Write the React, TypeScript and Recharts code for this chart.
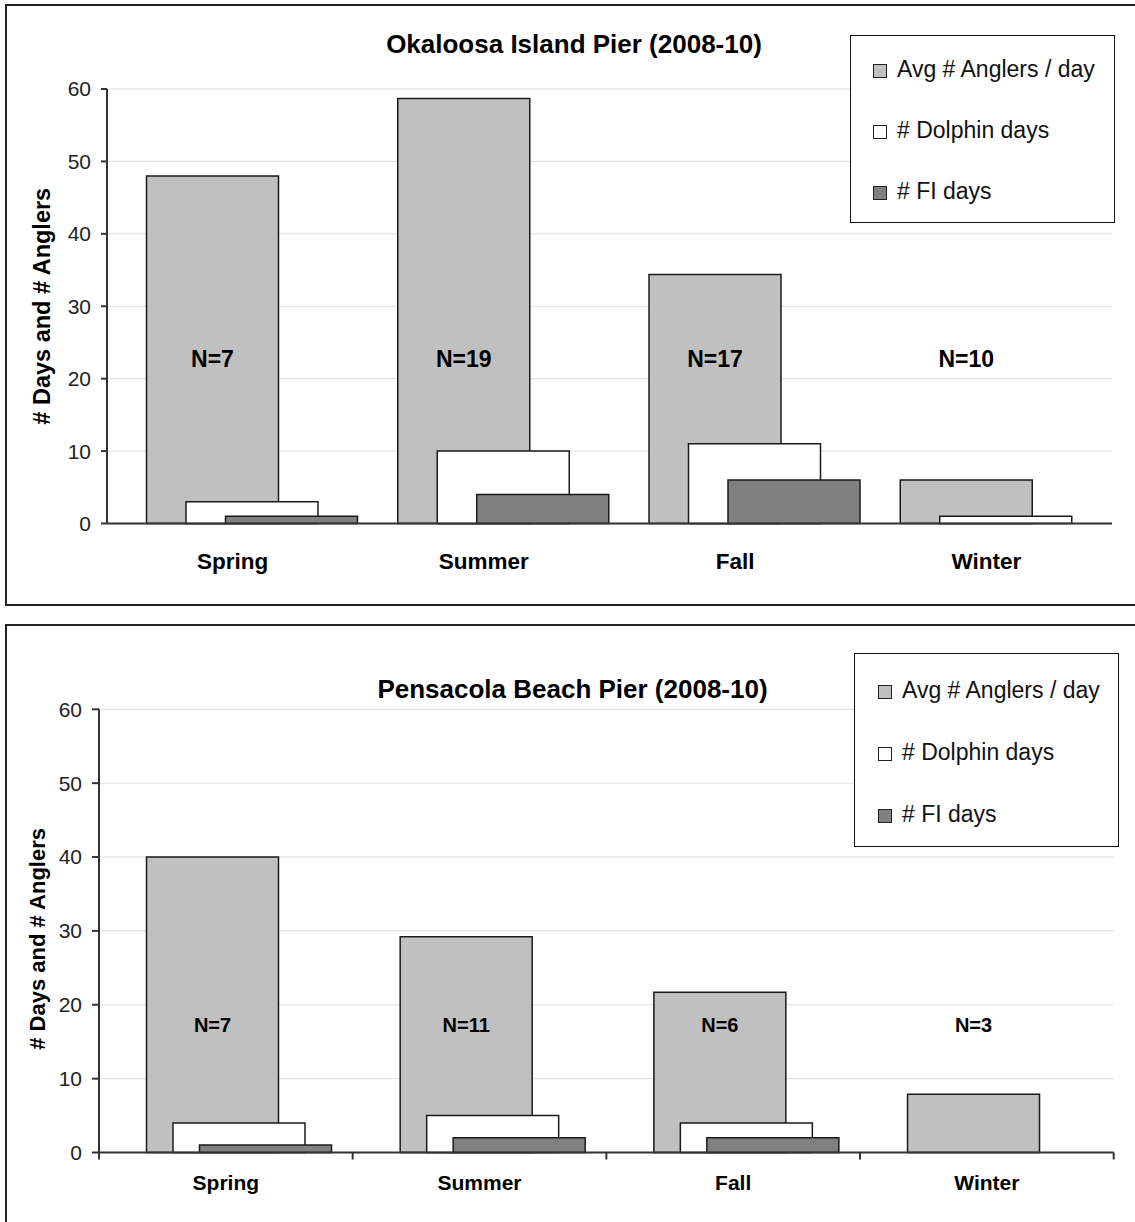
import React from "react";
import { BarChart, Bar, XAxis, YAxis, CartesianGrid, Legend, LabelList } from "recharts";

const seasons = ["Spring", "Summer", "Fall", "Winter"];
const yTicks = [0, 10, 20, 30, 40, 50, 60];

const okaloosaAnglers = [48, 58.7, 34.4, 6];
const okaloosaDolphinDays = [3, 10, 11, 1];
const okaloosaFiDays = [1, 4, 6, 0];
const okaloosaN = ["N=7", "N=19", "N=17", "N=10"];

const pensacolaAnglers = [40, 29.2, 21.7, 7.9];
const pensacolaDolphinDays = [4, 5, 4, 0];
const pensacolaFiDays = [1, 2, 2, 0];
const pensacolaN = ["N=7", "N=11", "N=6", "N=3"];

const FONT = "Arial, 'Liberation Sans', Helvetica, sans-serif";

const SERIES = [
  { key: "anglers", name: "Avg # Anglers / day", fill: "#c0c0c0" },
  { key: "dolphin", name: "# Dolphin days", fill: "#ffffff" },
  { key: "fi", name: "# FI days", fill: "#808080" },
];

const buildRows = (anglers: number[], dolphin: number[], fi: number[], n: string[]) =>
  seasons.map((season, i) => ({
    season,
    spacer: 0, // empty slot so the group sits to the right, like Excel's overlap
    anglers: anglers[i],
    dolphin: dolphin[i],
    fi: fi[i],
    n: n[i],
  }));

const okaloosaRows = buildRows(okaloosaAnglers, okaloosaDolphinDays, okaloosaFiDays, okaloosaN);
const pensacolaRows = buildRows(pensacolaAnglers, pensacolaDolphinDays, pensacolaFiDays, pensacolaN);

const topCfg = {
  title: "Okaloosa Island Pier (2008-10)",
  pageTop: 0,
  height: 610,
  margin: { top: 89, right: 23, left: 0, bottom: 26.5 },
  yAxisWidth: 107,
  yTickSize: 6,
  xAxisHeight: 60,
  barSize: 132,
  barGap: -92.5,
  nLevel: 22.8,
  nFont: 23,
  catFont: 22.5,
  catBaseline: 45,
  boundaryTicks: false,
  yLabelFont: 23.5,
  yLabelX: 42,
  yLabelDy: 0,
  titleBaseline: 53,
  titleCenter: 574,
  border: { top: 4, height: 601.5 },
  legend: { left: 850, top: 35, width: 265, height: 188, pad: 2.5, spacing: 61, indent: 22 },
};

const bottomCfg = {
  title: "Pensacola Beach Pier (2008-10)",
  pageTop: 610,
  height: 612,
  margin: { top: 99.3, right: 21.3, left: 0, bottom: 19.5 },
  yAxisWidth: 99,
  yTickSize: 7,
  xAxisHeight: 50,
  barSize: 132,
  barGap: -105.5,
  nLevel: 17.3,
  nFont: 20,
  catFont: 21,
  catBaseline: 37.5,
  boundaryTicks: true,
  yLabelFont: 22,
  yLabelX: 37,
  yLabelDy: 8,
  titleBaseline: 698,
  titleCenter: 572.5,
  border: { top: 624, height: 700 },
  legend: { left: 854, top: 43, width: 265, height: 194, pad: 5, spacing: 62, indent: 23 },
};

function SeasonTick(props: any) {
  const { x, y, payload, index, visibleTicksCount, cfg } = props;
  const plotW = 1135 - cfg.margin.right - cfg.yAxisWidth;
  const half = typeof payload.offset === "number" && payload.offset > 0 ? payload.offset : plotW / seasons.length / 2;
  const axisY = y - 6;
  const isLast = index === (visibleTicksCount ?? seasons.length) - 1;
  return (
    <g>
      {cfg.boundaryTicks && (
        <line x1={x - half} x2={x - half} y1={axisY} y2={axisY + 7} stroke="#333" strokeWidth={2} />
      )}
      {cfg.boundaryTicks && isLast && (
        <line x1={x + half} x2={x + half} y1={axisY} y2={axisY + 7} stroke="#333" strokeWidth={2} />
      )}
      <text
        x={x}
        y={axisY + cfg.catBaseline}
        textAnchor="middle"
        fontFamily={FONT}
        fontSize={cfg.catFont}
        fontWeight="bold"
        fill="#000"
      >
        {payload.value}
      </text>
    </g>
  );
}

function LegendBox({ payload, cfg }: any) {
  const lg = cfg.legend;
  // keep the series order, whatever order the payload comes in
  const items = SERIES.map((s) => {
    const hit = (payload || []).find((p: any) => p.dataKey === s.key);
    return { key: s.key, label: hit ? hit.value : s.name, fill: s.fill };
  });
  return (
    <div
      style={{
        boxSizing: "border-box",
        width: lg.width,
        height: lg.height,
        border: "1.5px solid #111",
        background: "#fff",
        paddingTop: lg.pad,
        fontFamily: FONT,
      }}
    >
      {items.map((it) => (
        <div
          key={it.key}
          style={{ height: lg.spacing, display: "flex", alignItems: "center", paddingLeft: lg.indent }}
        >
          <span
            style={{
              display: "inline-block",
              boxSizing: "border-box",
              width: 14,
              height: 14,
              border: "1.5px solid #222",
              background: it.fill,
              marginRight: 10,
              marginTop: 3,
            }}
          />
          <span style={{ fontSize: 23, color: "#111", whiteSpace: "nowrap" }}>{it.label}</span>
        </div>
      ))}
    </div>
  );
}

function PierPanel({ rows, cfg }: any) {
  const renderN = (props: any) => {
    const box = props.viewBox && typeof props.viewBox.height === "number" ? props.viewBox : props;
    const row = rows[props.index];
    if (!row || !row.anglers) return null;
    const base = box.y + box.height;
    const perUnit = box.height / row.anglers;
    return (
      <text
        x={box.x + box.width / 2}
        y={base - cfg.nLevel * perUnit}
        dy="0.355em"
        textAnchor="middle"
        fontFamily={FONT}
        fontSize={cfg.nFont}
        fontWeight="bold"
        fill="#000"
      >
        {row.n}
      </text>
    );
  };

  const renderYLabel = (props: any) => {
    const vb = props.viewBox || {};
    const cy = vb.y + vb.height / 2 + cfg.yLabelDy;
    return (
      <text
        x={cfg.yLabelX}
        y={cy}
        transform={`rotate(-90 ${cfg.yLabelX} ${cy})`}
        textAnchor="middle"
        dy="0.355em"
        fontFamily={FONT}
        fontSize={cfg.yLabelFont}
        fontWeight="bold"
        fill="#000"
      >
        # Days and # Anglers
      </text>
    );
  };

  return (
    <>
      <div
        style={{
          position: "absolute",
          left: 5,
          top: cfg.border.top,
          width: 1200,
          height: cfg.border.height,
          boxSizing: "border-box",
          border: "2px solid #222",
        }}
      />
      <div
        style={{
          position: "absolute",
          left: 0,
          top: cfg.titleBaseline - 22,
          width: cfg.titleCenter * 2,
          textAlign: "center",
          fontFamily: FONT,
          fontSize: 26,
          lineHeight: "26px",
          fontWeight: "bold",
          color: "#000",
          whiteSpace: "nowrap",
        }}
      >
        {cfg.title}
      </div>
      <div style={{ position: "absolute", left: 0, top: cfg.pageTop }}>
        <BarChart
          width={1135}
          height={cfg.height}
          data={rows}
          margin={cfg.margin}
          barSize={cfg.barSize}
          barGap={cfg.barGap}
        >
          <CartesianGrid vertical={false} stroke="#dddddd" strokeWidth={1} />
          <XAxis
            dataKey="season"
            interval={0}
            height={cfg.xAxisHeight}
            axisLine={{ stroke: "#333", strokeWidth: 2 }}
            tickLine={false}
            tickSize={6}
            tickMargin={0}
            tick={(p: any) => <SeasonTick {...p} cfg={cfg} />}
          />
          <YAxis
            domain={[0, 60]}
            ticks={yTicks}
            interval={0}
            width={cfg.yAxisWidth}
            tickSize={cfg.yTickSize}
            tickMargin={10}
            axisLine={{ stroke: "#333", strokeWidth: 2 }}
            tickLine={{ stroke: "#333", strokeWidth: 2 }}
            tick={{ fill: "#222", fontSize: 21, fontFamily: FONT }}
            label={{ content: renderYLabel }}
          />
          <Legend
            layout="horizontal"
            verticalAlign="middle"
            align="center"
            wrapperStyle={{
              left: cfg.legend.left,
              top: cfg.legend.top,
              width: cfg.legend.width,
              height: cfg.legend.height,
            }}
            content={(p: any) => <LegendBox {...p} cfg={cfg} />}
          />
          <Bar dataKey="spacer" fill="none" stroke="none" legendType="none" isAnimationActive={false} />
          {SERIES.map((s) => (
            <Bar
              key={s.key}
              dataKey={s.key}
              name={s.name}
              fill={s.fill}
              stroke="#1a1a1a"
              strokeWidth={1.5}
              isAnimationActive={false}
            >
              {s.key === "anglers" && <LabelList dataKey="n" content={renderN} />}
            </Bar>
          ))}
        </BarChart>
      </div>
    </>
  );
}

export default function App() {
  return (
    <div
      style={{
        position: "fixed",
        left: 0,
        top: 0,
        width: 1135,
        height: 1222,
        overflow: "hidden",
        background: "#fff",
      }}
    >
      <PierPanel rows={okaloosaRows} cfg={topCfg} />
      <PierPanel rows={pensacolaRows} cfg={bottomCfg} />
    </div>
  );
}
